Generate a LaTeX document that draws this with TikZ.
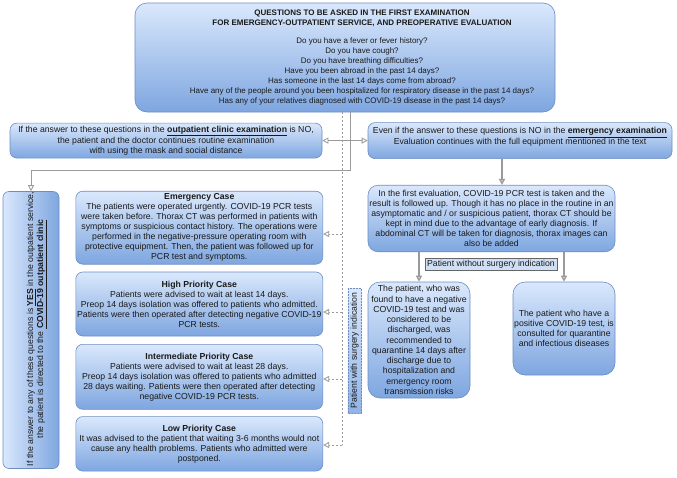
\documentclass[tikz,border=0pt]{standalone}
\usepackage{fontspec}
\setmainfont{Liberation Sans}
\usetikzlibrary{arrows.meta}
\definecolor{boxtop}{HTML}{DAE8FC}
\definecolor{boxbot}{HTML}{7EA6E0}
\definecolor{boxline}{HTML}{6C8EBF}
\definecolor{conn}{HTML}{9A9A9A}
\definecolor{txtc}{HTML}{1A1A1A}
\definecolor{labfill}{HTML}{CFDFF5}
\newcommand\fsA{\fontsize{8.7}{10}\selectfont}
\newcommand\fsB{\fontsize{8}{10}\selectfont}
\begin{document}
\begin{tikzpicture}[x=1pt,y=-1pt,
  box/.style={draw=boxline, line width=0.6pt, rounded corners=7pt, top color=boxtop, bottom color=boxbot, align=center, inner sep=1pt, font=\fsA, text=txtc},
  vbox/.style={draw=boxline, line width=0.6pt, rounded corners=6pt, left color=boxtop, right color=boxbot},
  txt/.style={align=center, inner sep=0pt, font=\fsA, text=txtc},
  conn/.style={draw=conn, line width=1pt},
  dconn/.style={draw=conn, line width=0.8pt, dash pattern=on 2pt off 2pt},
  oarrow/.style={-{Triangle[open,length=6pt,width=6pt]}},
  darrow/.style={{Triangle[open,length=6pt,width=6pt]}-{Triangle[open,length=6pt,width=6pt]}},
  lab/.style={draw=gray!80!black, line width=0.5pt, fill=labfill, inner sep=0pt, font=\fsA, text=txtc}
]
\useasboundingbox (0,0) rectangle (677,477);

% top box
\node[box, rounded corners=12pt, minimum width=420pt, minimum height=109pt] (top) at (345,57.5) {};
\node[txt, font=\fsB] (toptext) at (362,57.7) {\textbf{QUESTIONS TO BE ASKED IN THE FIRST EXAMINATION}\\
\textbf{FOR EMERGENCY-OUTPATIENT SERVICE, AND PREOPERATIVE EVALUATION}\\[8pt]
Do you have a fever or fever history?\\
Do you have cough?\\
Do you have breathing difficulties?\\
Have you been abroad in the past 14 days?\\
Has someone in the last 14 days come from abroad?\\
Have any of the people around you been hospitalized for respiratory disease in the past 14 days?\\
Has any of your relatives diagnosed with COVID-19 disease in the past 14 days?};

% second row
\node[box, minimum width=312pt, minimum height=35pt] (outp) at (166,140.6) {If the answer to these questions in the \underline{\textbf{outpatient clinic examination}} is NO,\\
the patient and the doctor continues routine examination\\
with using the mask and social distance};
\node[box, minimum width=304pt, minimum height=36pt] (emerg) at (520,140.6) {};
\node[txt] (emergtext) at (520,137) {Even if the answer to these questions is NO in the \underline{\textbf{emergency examination}}\\
Evaluation continues with the full equipment mentioned in the text};

% left vertical box
\node[vbox, minimum width=56pt, minimum height=277pt] (yes) at (31,330) {};
\node[txt, rotate=90] (yestext) at (37,329) {If the answer to any of these questions is \underline{\textbf{YES}} in the outpatient service,\\
the patient is directed to the \underline{\textbf{COVID-19 outpatient clinic}}};

% case boxes
\node[box, minimum width=247pt, minimum height=73pt] (ec) at (199.3,227.7) {\textbf{Emergency Case}\\
The patients were operated urgently. COVID-19 PCR tests\\
were taken before. Thorax CT was performed in patients with\\
symptoms or suspicious contact history. The operations were\\
performed in the negative-pressure operating room with\\
protective equipment. Then, the patient was followed up for\\
PCR test and symptoms.};
\node[box, minimum width=247pt, minimum height=64pt] (hp) at (199.3,304) {\textbf{High Priority Case}\\
Patients were advised to wait at least 14 days.\\
Preop 14 days isolation was offered to patients who admitted.\\
Patients were then operated after detecting negative COVID-19\\
PCR tests.};
\node[box, minimum width=247pt, minimum height=65pt] (ip) at (199.3,376.8) {\textbf{Intermediate Priority Case}\\
Patients were advised to wait at least 28 days.\\
Preop 14 days isolation was offered to patients who admitted\\
28 days waiting. Patients were then operated after detecting\\
negative COVID-19 PCR tests.};
\node[box, minimum width=247pt, minimum height=54.5pt] (lp) at (199.3,443.8) {\textbf{Low Priority Case}\\
It was advised to the patient that waiting 3-6 months would not\\
cause any health problems. Patients who admitted were\\
postponed.};

% right column
\node[box, rounded corners=10pt, minimum width=247pt, minimum height=66.5pt] (pcr) at (491.5,218.5) {In the first evaluation, COVID-19 PCR test is taken and the\\
result is followed up. Though it has no place in the routine in an\\
asymptomatic and / or suspicious patient, thorax CT should be\\
kept in mind due to the advantage of early diagnosis. If\\
abdominal CT will be taken for diagnosis, thorax images can\\
also be added};
\node[lab, minimum width=132pt, minimum height=12pt] (nosurg) at (491,264) {Patient without surgery indication};
\node[box, rounded corners=12pt, font=\fontsize{8.7}{10.25}\selectfont, minimum width=102pt, minimum height=116pt] (neg) at (419,340) {The patient, who was\\
found to have a negative\\
COVID-19 test and was\\
considered to be\\
discharged, was\\
recommended to\\
quarantine 14 days after\\
discharge due to\\
hospitalization and\\
emergency room\\
transmission risks};
\node[box, rounded corners=12pt, minimum width=102pt, minimum height=93pt] (pos) at (564,328.5) {The patient who have a\\
positive COVID-19 test, is\\
consulted for quarantine\\
and infectious diseases};
\node[lab, draw=boxline, dash pattern=on 1.5pt off 1.5pt, top color=boxtop, bottom color=boxbot!80!boxtop, rotate=90, minimum width=125pt, minimum height=13.5pt] (surg) at (354.5,350.5) {Patient with surgery indication};

% connectors
\coordinate (bend) at (31,170);
\draw[conn, line width=0.8pt, oarrow] ([xshift=5pt]top.south) |- (bend) -- (yes.north);
\draw[conn, line width=0.8pt, darrow] (outp.east) -- (emerg.west);

\coordinate (d1) at (342,234);
\coordinate (d2) at (342,312);
\coordinate (d3) at (342,379);
\coordinate (d4) at (342,445);
\draw[dconn] ([xshift=-3pt]top.south) -- (d4);
\draw[dconn, oarrow] (d1) -- (d1 -| ec.east);
\draw[dconn, oarrow] (d2) -- (d2 -| hp.east);
\draw[dconn, oarrow] (d3) -- (d3 -| ip.east);
\draw[dconn, oarrow] (d4) -- (d4 -| lp.east);

\draw[conn, line width=1.3pt, oarrow] ([xshift=-18pt]emerg.south) -- ([xshift=-18pt]emerg.south |- pcr.north);
\draw[conn, line width=1.3pt, oarrow] (pcr.south -| neg.north) -- (neg.north);
\draw[conn, line width=1.3pt, oarrow] (pcr.south -| pos.north) -- (pos.north);
\end{tikzpicture}
\end{document}
